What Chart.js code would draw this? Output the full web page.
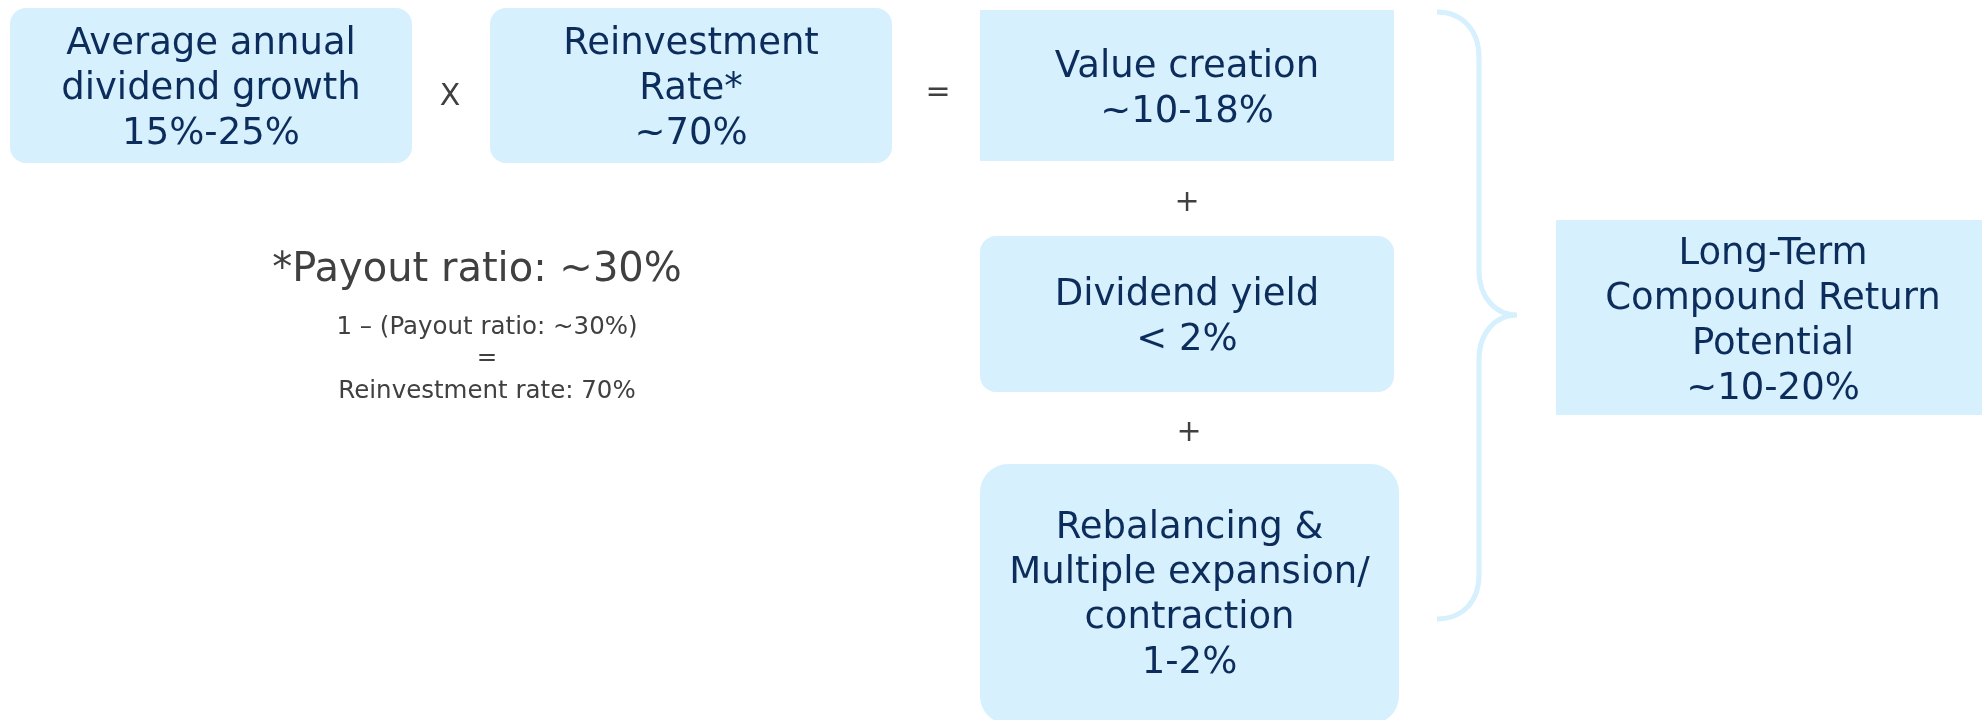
<!DOCTYPE html>
<html>
<head>
<meta charset="utf-8">
<script src="https://cdn.jsdelivr.net/npm/chart.js@4/dist/chart.umd.min.js"></script>
<style>
  html, body { margin: 0; padding: 0; background: #ffffff; }
  #wrap { width: 1982px; height: 720px; }
</style>
</head>
<body>
<div id="wrap"><canvas id="diagram" width="1982" height="720"></canvas></div>
<script>
// text of each box, top to bottom
const growthLines = ['Average annual', 'dividend growth', '15%-25%'];
const reinvestLines = ['Reinvestment', 'Rate*', '~70%'];
const valueLines = ['Value creation', '~10-18%'];
const yieldLines = ['Dividend yield', '< 2%'];
const rebalanceLines = ['Rebalancing &', 'Multiple expansion/', 'contraction', '1-2%'];
const totalLines = ['Long-Term', 'Compound Return', 'Potential', '~10-20%'];
const footnoteLines = ['*Payout ratio: ~30%'];
const formulaLines = ['1 \u2013 (Payout ratio: ~30%)', '=', 'Reinvestment rate: 70%'];
const operators = ['X', '=', '+', '+'];

// layout in scale units (x 0..1982, y 0..720)
const boxes = [
  { lines: growthLines, x0: 10, x1: 412, y0: 8, y1: 163, r: 16 },
  { lines: reinvestLines, x0: 490, x1: 892, y0: 8, y1: 163, r: 16 },
  { lines: valueLines, x0: 980, x1: 1394, y0: 10, y1: 161, r: 0 },
  { lines: yieldLines, x0: 980, x1: 1394, y0: 236, y1: 392, r: 16 },
  { lines: rebalanceLines, x0: 980, x1: 1399, y0: 464, y1: 724, r: 28 },
  { lines: totalLines, x0: 1556, x1: 1990, y0: 220, y1: 415, r: 0 }
];
const opSpots = [[450, 97], [938, 93], [1187, 203], [1189, 433]];

const boxFill = '#d7f0fd';
const navy = '#0c2d5c';
const grey = '#404040';
const face = '"DejaVu Sans", sans-serif';

const diagramPlugin = {
  id: 'diagram',
  afterDraw(chart) {
    const ctx = chart.ctx;
    const sx = chart.scales.x, sy = chart.scales.y;
    const px = v => sx.getPixelForValue(v);
    const py = v => sy.getPixelForValue(v);
    ctx.save();
    ctx.textAlign = 'center';
    ctx.textBaseline = 'middle';

    boxes.forEach(b => {
      const x0 = px(b.x0), x1 = px(b.x1), y0 = py(b.y0), y1 = py(b.y1);
      ctx.fillStyle = boxFill;
      ctx.beginPath();
      ctx.roundRect(x0, y0, x1 - x0, y1 - y0, b.r);
      ctx.fill();
      const cx = (x0 + x1) / 2;
      const cy = (py(b.y0) + py(Math.min(b.y1, 720))) / 2 + 4;
      const lh = 45;
      ctx.fillStyle = navy;
      ctx.font = '37px ' + face;
      b.lines.forEach((t, i) => {
        ctx.fillText(t, cx, cy + (i - (b.lines.length - 1) / 2) * lh);
      });
    });

    // operators
    ctx.fillStyle = grey;
    ctx.font = '30px ' + face;
    operators.forEach((o, i) => {
      ctx.fillText(o, px(opSpots[i][0]), py(opSpots[i][1]));
    });

    // footnote
    ctx.font = '40px ' + face;
    ctx.fillText(footnoteLines[0], px(477), py(271));
    ctx.font = '24.5px ' + face;
    [328, 359, 392].forEach((yy, i) => {
      ctx.fillText(formulaLines[i], px(487), py(yy));
    });

    // curly brace
    ctx.strokeStyle = boxFill;
    ctx.lineWidth = 5;
    ctx.beginPath();
    ctx.moveTo(px(1437), py(12));
    ctx.bezierCurveTo(px(1462), py(12), px(1479), py(30), px(1479), py(57));
    ctx.lineTo(px(1479), py(270));
    ctx.bezierCurveTo(px(1479), py(298), px(1496), py(315), px(1517), py(315));
    ctx.bezierCurveTo(px(1496), py(315), px(1479), py(332), px(1479), py(360));
    ctx.lineTo(px(1479), py(575));
    ctx.bezierCurveTo(px(1479), py(602), px(1462), py(619), px(1437), py(619));
    ctx.stroke();
    ctx.restore();
  }
};

new Chart(document.getElementById('diagram'), {
  type: 'scatter',
  data: { datasets: [] },
  options: {
    responsive: false,
    animation: false,
    layout: { padding: 0 },
    plugins: { legend: { display: false }, tooltip: { enabled: false } },
    scales: {
      x: { type: 'linear', min: 0, max: 1982, display: false },
      y: { type: 'linear', min: 0, max: 720, reverse: true, display: false }
    }
  },
  plugins: [diagramPlugin]
});
</script>
</body>
</html>
